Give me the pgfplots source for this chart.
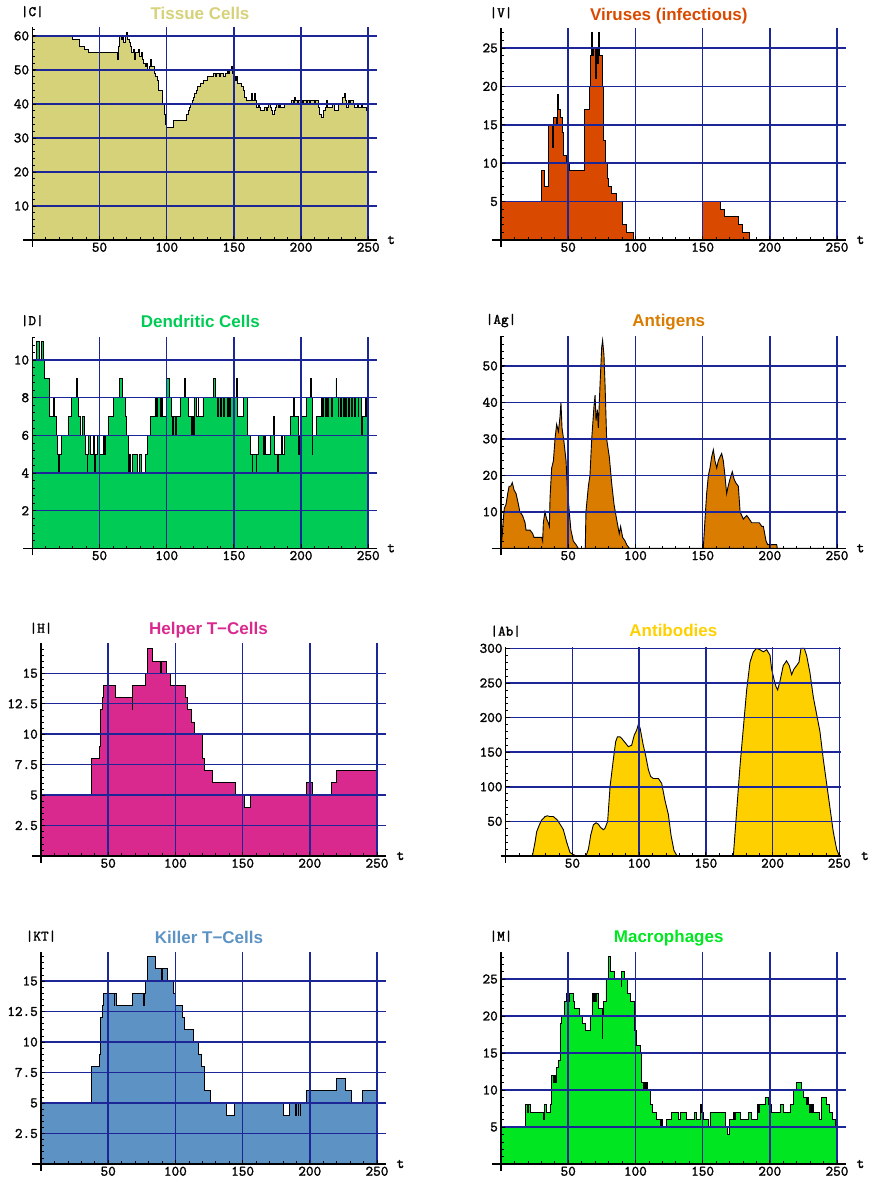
\documentclass[border=0pt]{standalone}
\usepackage{fontspec}
\setmainfont{Liberation Sans}
\newfontfamily\courb{lmmono10-regular}[Extension=.otf, FakeBold=1.6]
\usepackage{pgfplots}
\pgfplotsset{compat=1.18}
\definecolor{gridc}{RGB}{28,38,150}
\definecolor{ctissue}{RGB}{214,210,122}
\definecolor{cvirus}{RGB}{217,74,0}
\definecolor{cdend}{RGB}{0,204,85}
\definecolor{cantig}{RGB}{217,124,0}
\definecolor{chelp}{RGB}{217,41,143}
\definecolor{cantib}{RGB}{255,208,0}
\definecolor{ckill}{RGB}{92,147,196}
\definecolor{cmacro}{RGB}{0,230,32}
\newcommand{\tickf}{\fontsize{14.5}{16}\selectfont\courb}
\newcommand{\titf}{\fontsize{17}{20}\selectfont\bfseries}
\newcommand{\labf}{\fontsize{14.5}{16}\selectfont\courb}
\pgfplotsset{
  panel/.style={
    scale only axis, anchor=south west,
    xmin=0, ymin=0,
    axis lines=left,
    axis line style={-, line width=1.3pt, black},
    x axis line style={shorten <=-9pt},
    y axis line style={shorten <=-7pt},
    tick align=inside,
    major tick length=4pt, minor tick length=2.5pt,
    tick style={black, line width=0.8pt},
    minor tick style={line width=0.6pt},
    xtick={50,100,150,200,250},
    minor xtick={10,20,30,40,60,70,80,90,110,120,130,140,160,170,180,190,210,220,230,240},
    grid=major,
    major grid style={gridc, line width=1.5pt},
    axis on top,
    tick label style={font=\tickf},
    /pgf/number format/assume math mode=true,
    xticklabel style={inner ysep=2.5pt},
    yticklabel style={inner xsep=3pt},
  },
  dat/.style={draw=black, line width=0.9pt, fill=#1},
}
\begin{document}
\begin{tikzpicture}
\useasboundingbox (0,0) rectangle (872pt,1182pt);
% ---------------- Panel 1: Tissue Cells
\begin{axis}[panel, name=p1, at={(32.3pt,942pt)}, width=344.4pt, height=213.3pt,
  xmax=256.3, ymax=62.7, ytick={10,20,...,60}, minor ytick={2,4,...,62}]
\addplot[dat=ctissue, const plot] coordinates {
(0,60)(30,59)(35,57)(39,56)(42,55)(63,53)(64,57)(65,60)(66,59)(67,60)(68,58)(69,60)(70,61)(71,59)(72,58)(73,57)(74,55)(75,56)(76,53)(77,55)(79,56)(80,54)(81,55)(82,53)(83,52)(84,51)(85,52)(86,50)(87,51)(88,53)(89,51)(91,49)(92,48)(93,47)(94,44)(97,40)(98,37)(99,34)(100,33)(105,35)(115,37)(116,38)(117,39)(118,40)(119,41)(120,42)(121,43)(122,44)(123,45)(125,46)(127,47)(130,48)(135,49)(136,48)(137,49)(139,48)(140,49)(142,48)(144,49)(145,50)(146,49)(147,50)(148,51)(149,49)(150,48)(151,47)(152,48)(153,46)(156,45)(157,44)(158,42)(159,41)(163,43)(164,41)(165,43)(166,41)(167,39)(168,40)(169,39)(170,38)(173,39)(174,38)(175,39)(176,40)(177,39)(178,38)(179,37)(180,38)(181,39)(182,40)(183,39)(184,40)(185,39)(188,40)(193,41)(194,40)(195,42)(196,41)(197,40)(198,41)(201,40)(202,41)(204,40)(205,41)(206,40)(207,41)(210,40)(211,41)(213,39)(214,37)(215,36)(217,38)(218,39)(219,41)(220,39)(223,40)(225,38)(228,40)(231,42)(232,43)(233,41)(234,39)(235,41)(236,40)(237,41)(239,40)(240,39)(242,40)(243,39)(245,40)(246,39)(249,38)(250,37)
} \closedcycle;
\end{axis}
\node[font=\titf, text=ctissue, anchor=base] at ([xshift=-4.5pt, yshift=7.3pt]p1.north) {Tissue Cells};
\node[font=\labf] at ([yshift=15pt]p1.north west) {|C|};
\node[font=\labf] at ([xshift=14.5pt]p1.south east) {t};
% ---------------- Panel 2: Viruses
\begin{axis}[panel, name=p2, at={(501pt,942pt)}, width=345pt, height=211.7pt,
  xmax=256.7, ymax=27.56, ytick={5,10,...,25}, minor ytick={1,2,...,27}]
\addplot[dat=cvirus, const plot] coordinates {
(0,5)(30.3,9)(32,7)(35.2,15)(38.2,12)(39,16)(41.3,15)(42,19)(43,17)(44,16)(45.5,14)(46.5,11)(49,10)(50.8,9)(62.3,17)(65.5,20)(66.5,24)(67.2,27)(68,24)(69,25)(70,21)(71,25)(72,23)(72.8,27)(73.5,24)(75.5,20)(76.5,13)(77.8,10)(79,8)(80,7)(82.5,6)(86,5)(90.5,2)(93,1)(98.5,0)(150,5)(163,4)(166,3)(177,2)(180,1)(185,0)(250,0)
} \closedcycle;
\end{axis}
\node[font=\titf, text=cvirus, anchor=base] at ([xshift=-4.7pt, yshift=8.2pt]p2.north) {Viruses (infectious)};
\node[font=\labf] at ([yshift=15.5pt]p2.north west) {|V|};
\node[font=\labf] at ([xshift=14.5pt]p2.south east) {t};
% ---------------- Panel 3: Dendritic Cells
\begin{axis}[panel, name=p3, at={(32.3pt,633.7pt)}, width=344.4pt, height=211.6pt,
  xmax=256.3, ymax=11.24, ytick={2,4,...,10}, minor ytick={0.4,0.8,...,11.2}]
\addplot[dat=cdend, const plot] coordinates {
(0,10)(3,11)(5,10)(7,11)(8,10)(9,9)(12.6,7)(15.5,8)(16.2,7)(17.6,6)(18.6,5)(19.6,4)(20.2,5)(22,6)(26.8,7)(29,8)(32.7,9)(33.3,8)(34.5,7)(35.5,6)(37.2,7)(39,6)(39.6,5)(41,4)(41.4,5)(42,6)(43,5)(45.5,6)(46.4,4)(46.9,5)(48.6,6)(50.3,5)(53,6)(53.5,5)(54.5,6)(56.6,7)(60.3,8)(64.8,9)(67.3,8)(69,7)(70.3,6)(71.5,4)(72.3,5)(72.8,4)(74.5,5)(78.5,4)(79.8,5)(81,4)(84.5,5)(85.5,6)(88.1,7)(91.3,8)(92.7,7)(93.5,8)(95.2,7)(96,8)(96.5,7)(100,9)(102,8)(103.7,7)(104.5,6)(105,7)(106.5,6)(107,7)(110,8)(113.5,9)(114,8)(116,7)(118.6,6)(119.3,7)(120,6)(120.5,8)(122.5,7)(123.5,8)(124,7)(127,8)(134.7,9)(136,8)(137.5,7)(138.2,8)(140,7)(140.6,8)(142.5,7)(143.2,8)(145,7)(145.6,8)(147,7)(147.5,8)(152,9)(152.5,7)(157,8)(160,6)(162,5)(163.5,4)(164,5)(166.5,4)(167,5)(168,6)(172,5)(173,6)(173.5,5)(177,6)(179.5,7)(180.5,5)(182.5,4)(183,5)(185.5,6)(186,5)(188,6)(192,7)(194.5,8)(195,7)(198,6)(198.3,5)(198.8,6)(200.4,7)(204,8)(207,9)(207.5,8)(208.3,5)(208.8,6)(211.6,7)(215,8)(216,7)(216.6,8)(218,7)(218.6,8)(220,7)(220.5,8)(222.5,7)(223,8)(226,9)(226.6,8)(227.6,7)(228.2,8)(229.5,7)(230,8)(231.5,7)(232,8)(233.3,7)(233.8,8)(235.2,7)(235.8,8)(237.5,7)(238,8)(240,7)(240.6,8)(242.4,7)(243,8)(245,6)(245.5,7)(248,8)(249,7)(249.5,8)(250,8)
} \closedcycle;
\end{axis}
\node[font=\titf, text=cdend, anchor=base] at ([xshift=-4.2pt, yshift=8.9pt]p3.north) {Dendritic Cells};
\node[font=\labf] at ([yshift=16pt]p3.north west) {|D|};
\node[font=\labf] at ([xshift=14.5pt]p3.south east) {t};
% ---------------- Panel 4: Antigens
\begin{axis}[panel, name=p4, at={(501pt,633.7pt)}, width=345pt, height=212.3pt,
  xmax=256.7, ymax=58.2, ytick={10,20,...,50}, minor ytick={2,4,...,58}]
\addplot[dat=cantig] coordinates {
(0,0)(1,4)(1.7,8)(2.5,11)(3.7,12)(5,15)(6,17)(7.2,17)(8.4,18)(9.7,16)(11.2,15)(13,12)(14,10)(16,9)(17.9,7)(18.6,5)(21.6,5)(23.6,4)(24.5,3)(30.3,3)(31,2)(31.5,7)(32.7,10)(34,8)(35.2,7)(36,6)(36.5,14)(37.7,22)(39,24)(40.2,30)(41.4,34)(42.7,32)(43.9,36)(44.6,40)(45.4,33)(46.9,29)(48.4,24)(49.4,16)(50.8,10)(52,5)(53.8,2)(55.8,1)(57.5,0)(62.7,0)(63.2,10)(65,17)(66.2,20)(67.5,30)(69.2,39)(70,42)(70.7,35)(71.7,38)(72.4,33)(73.7,45)(74.9,55)(75.6,57)(76.6,53)(77.4,45)(78.6,30)(80.6,25)(82.3,18)(84.1,12)(86,8)(88,4)(89,6)(90.5,3)(92.3,2)(93.5,1)(95.5,0)(150.5,0)(151.8,8)(153,15)(154.3,20)(155.5,22)(156.7,25)(158,27)(159.2,24)(160.5,22)(161.7,24)(162.9,25)(164.2,26)(165.4,24)(166.6,20)(167.9,15)(169,17)(170.4,19)(172.1,21)(173.4,19)(174.6,18)(176.6,17)(177.9,10)(179.1,9)(180.3,8)(182.8,9)(184.8,8)(186.5,7)(192.2,7)(194,6)(195.2,6)(197.2,2)(198.4,1)(205.1,1)(205.6,0)(250,0)
} \closedcycle;
\end{axis}
\node[font=\titf, text=cantig, anchor=base] at ([xshift=-4.7pt, yshift=9.9pt]p4.north) {Antigens};
\node[font=\labf] at ([yshift=15.5pt]p4.north west) {|Ag|};
\node[font=\labf] at ([xshift=14.5pt]p4.south east) {t};
% ---------------- Panel 5: Helper T-Cells
\begin{axis}[panel, name=p5, at={(41pt,326pt)}, width=345pt, height=212.7pt,
  xmax=256.7, ymax=17.46, ytick={2.5,5,...,15}, minor ytick={0.5,1,...,17}]
\addplot[dat=chelp, const plot] coordinates {
(0,5)(37.7,8)(43.2,9)(44.4,12)(45.4,13)(46.4,14)(55.6,13)(68,12)(68.4,14)(77.9,15)(79.1,17)(82.6,16)(89.2,15)(89.6,16)(93.5,15)(96,14)(107.4,13)(109.1,12)(112.1,11)(114.1,10)(120,8)(121.3,7)(127.7,6)(144.8,5)(151.3,4)(156,5)(197.7,6)(202.1,5)(215.8,6)(220,7)(249.8,6)(250,6)
} \closedcycle;
\end{axis}
\node[font=\titf, text=chelp, anchor=base] at ([xshift=-5pt, yshift=8.9pt]p5.north) {Helper T{\char"2212}Cells};
\node[font=\labf] at ([yshift=15pt]p5.north west) {|H|};
\node[font=\labf] at ([xshift=14.5pt]p5.south east) {t};
% ---------------- Panel 6: Antibodies
\begin{axis}[panel, name=p6, at={(505.7pt,326pt)}, width=335.3pt, height=209.3pt,
  xmax=251.3, ymax=302.4, ytick={50,100,...,300}, minor ytick={10,20,...,300},
  x axis line style={shorten <=-5pt}]
\addplot[dat=cantib] coordinates {
(0,0)(20,0)(22,20)(23.2,35)(25.2,45)(27,52)(29.5,57)(31.2,58)(33.2,57)(35.7,57)(38.7,52)(42,42)(43.2,38)(45.7,20)(48.2,5)(50.7,2)(53.2,0)(60.2,0)(62,10)(63.7,30)(65.7,45)(67.7,48)(69.4,46)(71.2,41)(73.2,38)(74.4,40)(76.4,50)(78.2,100)(80.7,140)(82.4,165)(83.7,172)(85.7,172)(86.9,170)(89.4,164)(91.9,158)(94.4,160)(96.4,175)(98.2,182)(99.4,190)(100.7,185)(103.1,160)(104.9,145)(106.9,125)(108.6,115)(110.6,112)(114.4,112)(116.9,105)(119.4,80)(121.9,60)(123.9,30)(126.1,8)(128.1,1)(129.4,0)(170.6,0)(173.1,65)(175.6,130)(178.1,185)(180.6,240)(183.1,280)(185.6,295)(188.1,300)(190.6,298)(193.1,295)(195.6,298)(198.1,290)(199.3,270)(201.1,255)(202.5,245)(203.8,240)(205.5,252)(208,275)(210.5,282)(212.5,275)(214.3,262)(216,270)(218,275)(219.8,280)(221.3,300)(223.8,300)(225.5,290)(228,265)(230.5,230)(233,205)(235.5,180)(238,140)(240.5,105)(243,70)(245.5,35)(248,10)(250,0)
} \closedcycle;
\end{axis}
\node[font=\titf, text=cantib, anchor=base] at ([yshift=10.6pt]p6.north) {Antibodies};
\node[font=\labf] at ([yshift=15.5pt]p6.north west) {|Ab|};
\node[font=\labf] at ([xshift=24pt]p6.south east) {t};
% ---------------- Panel 7: Killer T-Cells
\begin{axis}[panel, name=p7, at={(41pt,18pt)}, width=345pt, height=212.3pt,
  xmax=256.7, ymax=17.4, ytick={2.5,5,...,15}, minor ytick={0.5,1,...,17}]
\addplot[dat=ckill, const plot] coordinates {
(0,5)(37.7,8)(43.2,9)(44.4,12)(45.4,13)(46.4,14)(54.4,13)(54.9,14)(56.3,13)(68.2,14)(76.4,13)(76.8,14)(77.9,15)(79.1,17)(85.3,16)(89.6,15)(90,16)(94.2,15)(98.5,14)(100.4,13)(105.2,12)(107.1,11)(113.8,10)(117.1,9)(119.5,8)(121.5,6)(126,5)(138.1,4)(143.8,5)(180.3,4)(184.8,5)(189.3,4)(189.7,5)(191.3,4)(191.7,5)(193,4)(193.4,5)(197.7,6)(219.5,7)(226.2,6)(230.7,5)(239,6)(250,6)
} \closedcycle;
\end{axis}
\node[font=\titf, text=ckill, anchor=base] at ([xshift=-4.5pt, yshift=8.1pt]p7.north) {Killer T{\char"2212}Cells};
\node[font=\labf] at ([yshift=15.5pt]p7.north west) {|KT|};
\node[font=\labf] at ([xshift=14.5pt]p7.south east) {t};
% ---------------- Panel 8: Macrophages
\begin{axis}[panel, name=p8, at={(501pt,18pt)}, width=345pt, height=212.3pt,
  xmax=256.7, ymax=28.7, ytick={5,10,...,25}, minor ytick={1,2,...,28}]
\addplot[dat=cmacro, const plot] coordinates {
(0,5)(18.4,8)(19.5,7)(20.5,8)(21.6,7)(31.3,6)(32,8)(34,7)(36.5,8)(37.7,12)(38.8,11)(39.5,12)(40.3,11)(41,13)(42.7,14)(43.9,19)(45.1,20)(46.9,22)(48.9,23)(50.5,22)(51,23)(53.8,22)(55,21)(58.3,20)(60.8,19)(62.5,18)(66.7,20)(68.2,23)(69,22)(69.5,23)(70.5,22)(71,23)(72.4,21)(75.2,17)(75.7,20)(76.1,22)(78.1,25)(79.9,28)(81.1,26)(84.3,25)(89.5,24)(89.8,26)(91.5,25)(94,23)(96.5,22)(99,18)(101,16)(103.4,15)(104.7,11)(106,10)(107,11)(107.5,10)(108.5,11)(109.3,10)(110.9,8)(112.8,7)(115.8,6)(118.3,5)(119.5,6)(120,5)(123.3,6)(127,7)(132,6)(133.2,7)(137.7,6)(144.3,7)(145.5,6)(148.5,8)(149,7)(150.5,6)(154.3,5)(155.5,7)(166.7,5)(168.4,4)(169.9,6)(172.9,7)(174,6)(174.5,7)(177.8,6)(184,7)(186.5,6)(190.7,8)(191.5,7)(192,8)(196.4,9)(198.9,8)(201.4,7)(208.1,8)(210,7)(215.5,8)(217.5,10)(220,11)(223.7,10)(225,9)(227,8)(228,9)(228.5,8)(229.4,7)(230.5,8)(231.2,7)(232,8)(232.7,7)(236.9,6)(238.6,9)(241.8,8)(244.3,7)(246.8,6)(248.5,5)(250,5)
} \closedcycle;
\end{axis}
\node[font=\titf, text=cmacro, anchor=base] at ([xshift=-4.8pt, yshift=8.9pt]p8.north) {Macrophages};
\node[font=\labf] at ([yshift=15.5pt]p8.north west) {|M|};
\node[font=\labf] at ([xshift=14.5pt]p8.south east) {t};
\end{tikzpicture}
\end{document}
